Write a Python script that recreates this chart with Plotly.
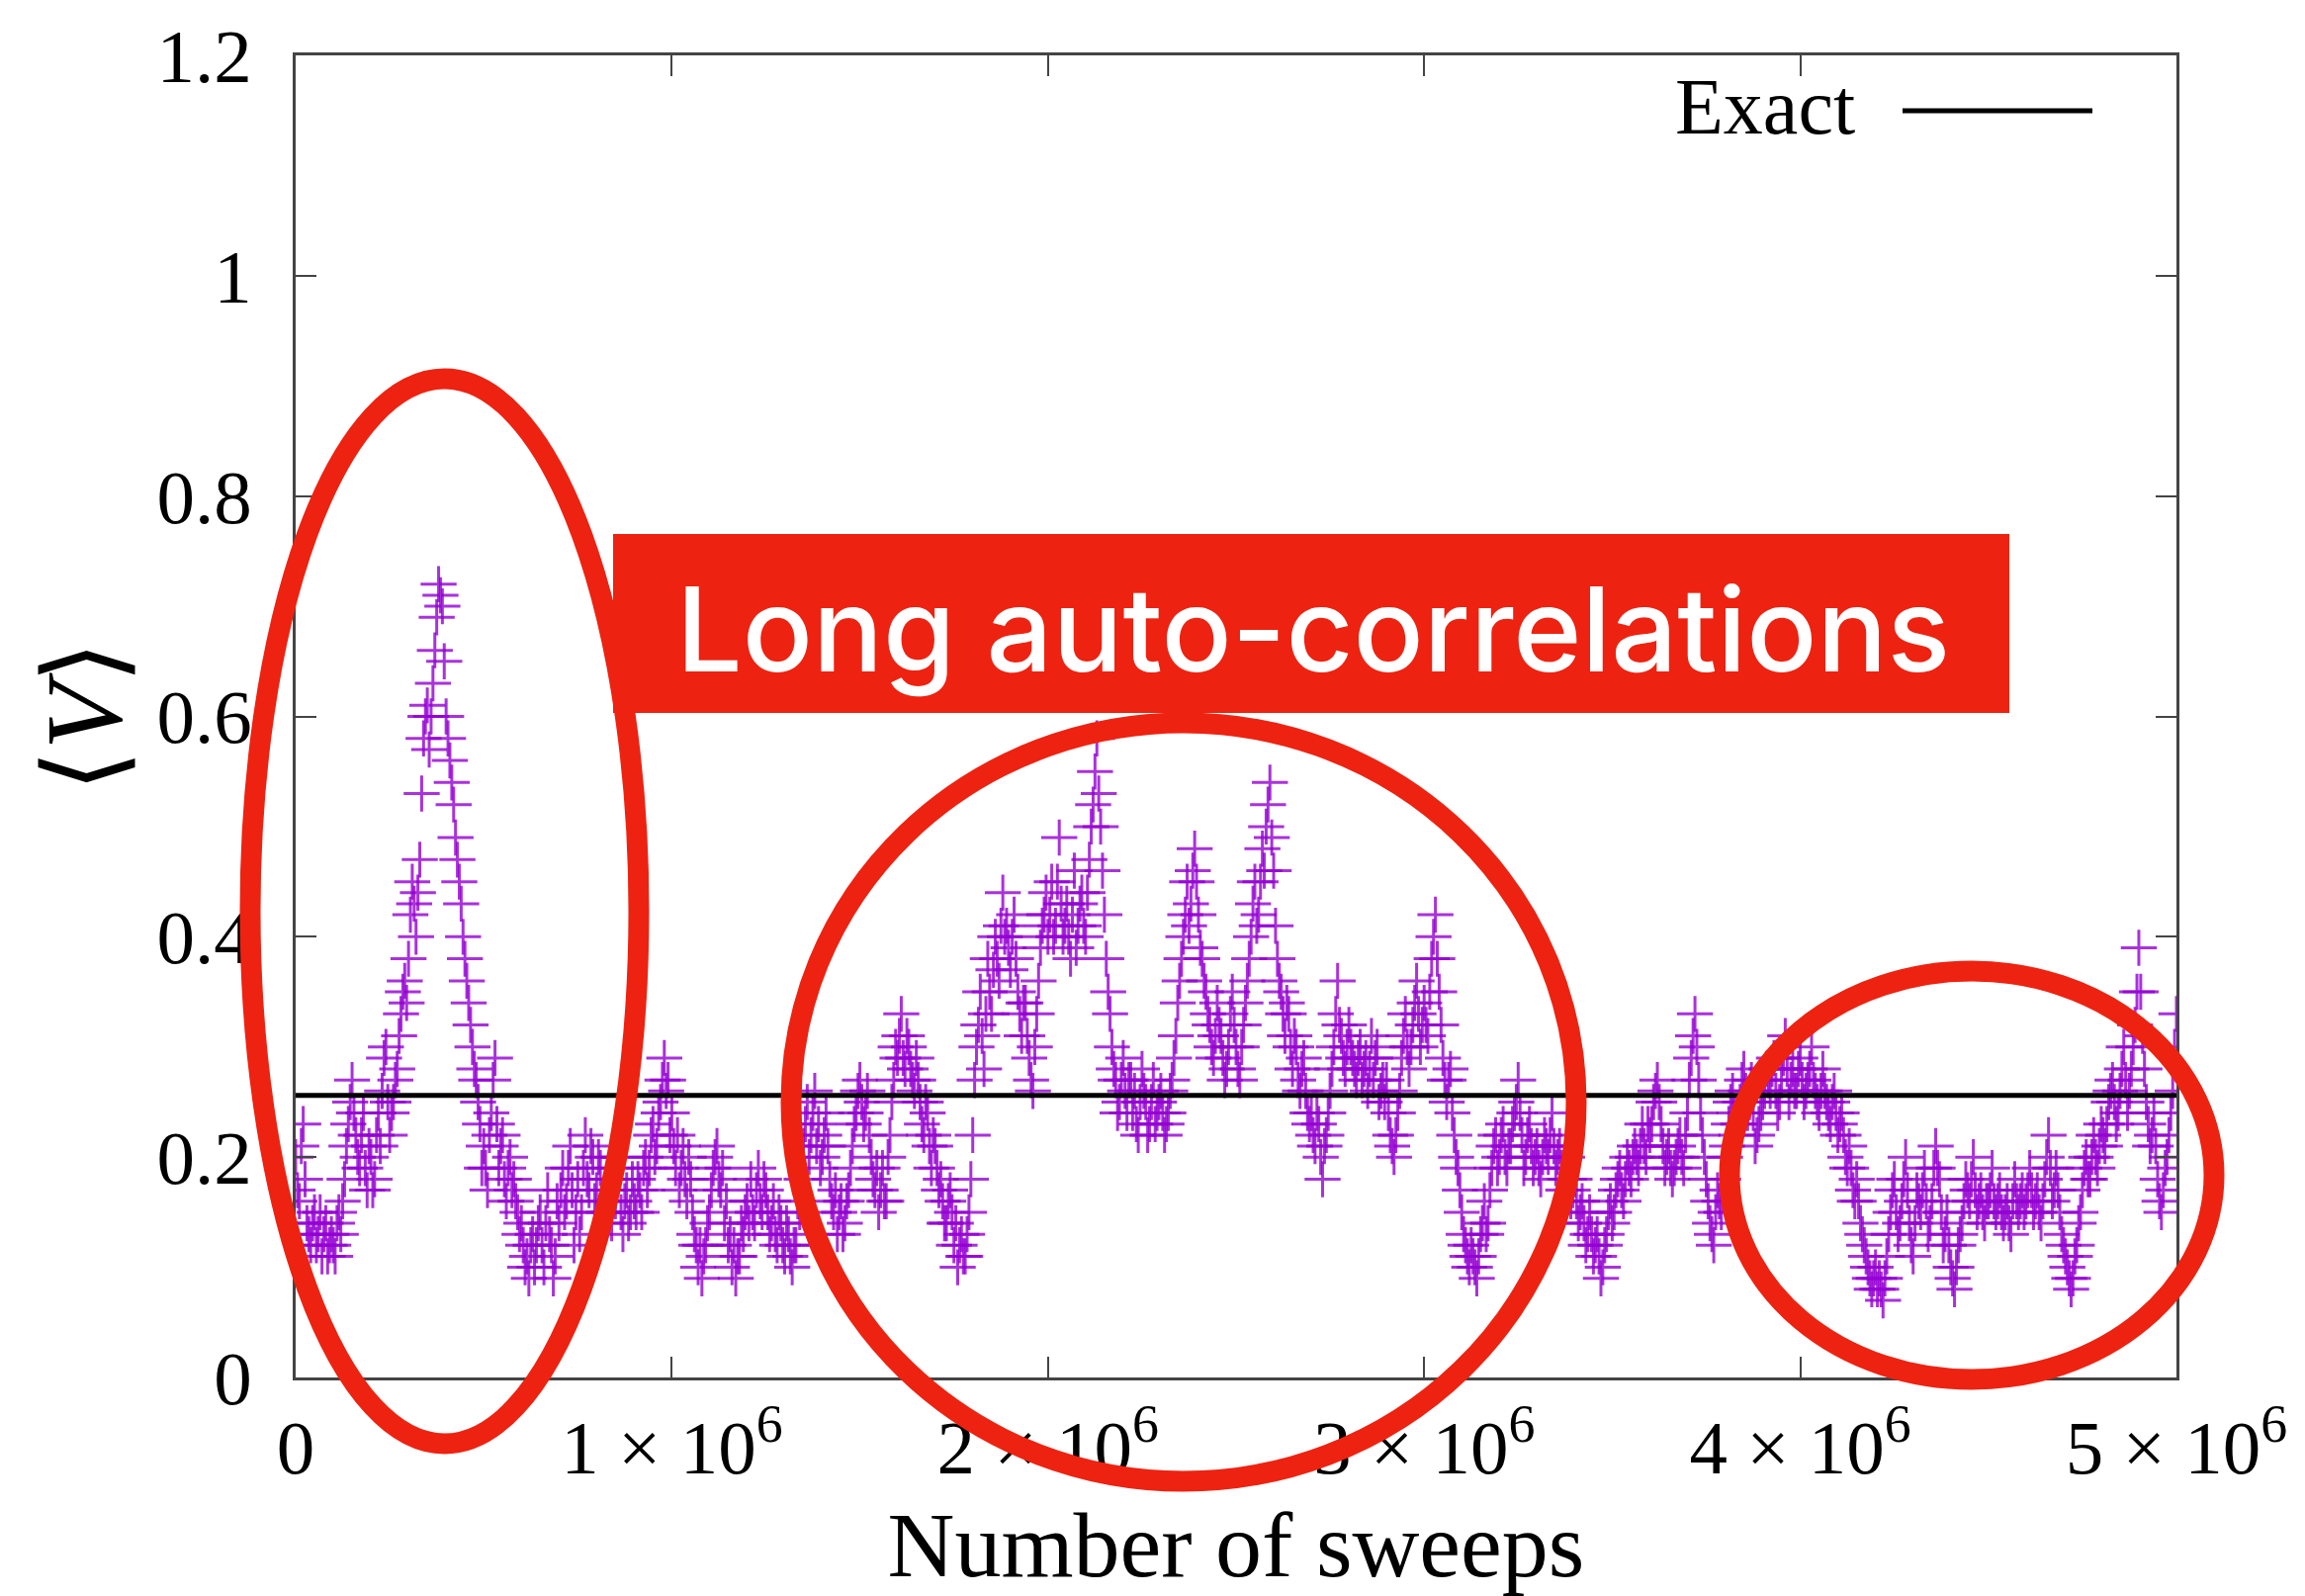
import plotly.graph_objects as go

# ---------------- data ----------------
sweep_step = 10000          # sweeps between successive measurements
mean_V = [
    # 0.0M
    0.20, 0.16, 0.23, 0.14, 0.12, 0.15, 0.13, 0.11, 0.14, 0.12,
    0.12, 0.14, 0.13, 0.18, 0.23, 0.27, 0.22, 0.19, 0.24, 0.17,
    0.20, 0.18, 0.24, 0.26, 0.30, 0.22, 0.25, 0.28, 0.33, 0.36,
    0.38, 0.45, 0.40, 0.47, 0.58, 0.61, 0.60, 0.66, 0.72, 0.70,
    0.60, 0.56, 0.52, 0.47, 0.43, 0.38, 0.34, 0.30, 0.27, 0.23,
    0.21, 0.17, 0.24, 0.29, 0.19, 0.22, 0.16, 0.20, 0.18, 0.15,
    0.14, 0.10, 0.09, 0.13, 0.12, 0.15, 0.10, 0.17, 0.12, 0.11,
    0.14, 0.19, 0.16, 0.21, 0.12, 0.18, 0.15, 0.22, 0.17, 0.20,
    0.17, 0.19, 0.15, 0.18, 0.14, 0.16, 0.20, 0.13, 0.17, 0.15,
    0.16, 0.18, 0.15, 0.20, 0.19, 0.23, 0.21, 0.25, 0.29, 0.27,
    # 1.0M
    0.24, 0.19, 0.17, 0.21, 0.16, 0.18, 0.13, 0.10, 0.09, 0.12,
    0.15, 0.19, 0.21, 0.17, 0.14, 0.12, 0.10, 0.09, 0.11, 0.13,
    0.16, 0.18, 0.14, 0.19, 0.15, 0.17, 0.13, 0.16, 0.12, 0.14,
    0.11, 0.13, 0.10, 0.12, 0.15, 0.21, 0.25, 0.22, 0.26, 0.23,
    0.20, 0.24, 0.18, 0.15, 0.13, 0.16, 0.14, 0.17, 0.21, 0.24,
    0.27, 0.23, 0.26, 0.20, 0.17, 0.15, 0.19, 0.16, 0.22, 0.27,
    0.29, 0.33, 0.28, 0.30, 0.27, 0.29, 0.25, 0.22, 0.24, 0.19,
    0.21, 0.17, 0.16, 0.14, 0.17, 0.12, 0.10, 0.13, 0.11, 0.15,
    0.22, 0.30, 0.35, 0.28, 0.38, 0.33, 0.40, 0.36, 0.44, 0.41,
    0.37, 0.42, 0.35, 0.31, 0.34, 0.29, 0.26, 0.33, 0.39, 0.42,
    # 2.0M
    0.40, 0.45, 0.41, 0.49, 0.40, 0.43, 0.38, 0.46, 0.41, 0.44,
    0.40, 0.47, 0.52, 0.58, 0.50, 0.42, 0.35, 0.30, 0.27, 0.25,
    0.29, 0.24, 0.27, 0.26, 0.22, 0.28, 0.25, 0.23, 0.27, 0.24,
    0.26, 0.22, 0.24, 0.27, 0.31, 0.36, 0.40, 0.45, 0.43, 0.48,
    0.42, 0.38, 0.35, 0.32, 0.29, 0.34, 0.31, 0.27, 0.30, 0.35,
    0.30, 0.27, 0.32, 0.36, 0.40, 0.45, 0.42, 0.48, 0.50, 0.54,
    0.46, 0.38, 0.35, 0.31, 0.33, 0.28, 0.30, 0.26, 0.29, 0.24,
    0.24, 0.21, 0.23, 0.18, 0.22, 0.26, 0.30, 0.36, 0.31, 0.28,
    0.32, 0.29, 0.27, 0.30, 0.28, 0.26, 0.31, 0.29, 0.25, 0.27,
    0.27, 0.22, 0.20, 0.24, 0.29, 0.33, 0.28, 0.32, 0.36, 0.30,
    # 3.0M
    0.34, 0.31, 0.38, 0.42, 0.35, 0.29, 0.25, 0.28, 0.22, 0.19,
    0.15, 0.12, 0.10, 0.11, 0.09, 0.13, 0.16, 0.14, 0.19, 0.22,
    0.20, 0.23, 0.19, 0.21, 0.24, 0.27, 0.22, 0.20, 0.23, 0.19,
    0.21, 0.18, 0.22, 0.20, 0.24, 0.19, 0.21, 0.17, 0.20, 0.16,
    0.18, 0.14, 0.16, 0.12, 0.15, 0.11, 0.13, 0.09, 0.12, 0.15,
    0.14, 0.17, 0.19, 0.16, 0.20, 0.18, 0.21, 0.19, 0.23, 0.20,
    0.22, 0.25, 0.27, 0.23, 0.19, 0.21, 0.18, 0.20, 0.22, 0.19,
    0.24, 0.29, 0.33, 0.27, 0.22, 0.18, 0.14, 0.12, 0.17, 0.15,
    0.20, 0.23, 0.26, 0.22, 0.25, 0.28, 0.24, 0.27, 0.21, 0.23,
    0.25, 0.28, 0.26, 0.29, 0.24, 0.27, 0.31, 0.25, 0.28, 0.26,
    # 4.0M
    0.29, 0.25, 0.27, 0.30, 0.26, 0.24, 0.28, 0.25, 0.23, 0.26,
    0.22, 0.24, 0.20, 0.21, 0.17, 0.18, 0.14, 0.12, 0.10, 0.08,
    0.10, 0.09, 0.07, 0.11, 0.15, 0.18, 0.13, 0.16, 0.20, 0.14,
    0.11, 0.17, 0.15, 0.19, 0.13, 0.16, 0.21, 0.18, 0.12, 0.15,
    0.10, 0.08, 0.12, 0.14, 0.18, 0.16, 0.20, 0.15, 0.17, 0.14,
    0.16, 0.19, 0.15, 0.17, 0.14, 0.16, 0.13, 0.18, 0.15, 0.17,
    0.16, 0.19, 0.15, 0.17, 0.14, 0.18, 0.22, 0.16, 0.19, 0.15,
    0.12, 0.10, 0.08, 0.11, 0.14, 0.17, 0.20, 0.18, 0.22, 0.19,
    0.23, 0.21, 0.25, 0.27, 0.23, 0.26, 0.30, 0.24, 0.28, 0.32,
    0.39, 0.31, 0.25, 0.21, 0.24, 0.18, 0.15, 0.19, 0.22, 0.26,
    # 5.0M
    0.33,
]
# measurements taken half-way between the ones above
mean_V_mid = [
    # 0.0M
    0.17, 0.21, 0.18, 0.13, 0.14, 0.12, 0.15, 0.13, 0.11, 0.13,
    0.11, 0.15, 0.16, 0.21, 0.25, 0.24, 0.20, 0.22, 0.19, 0.21,
    0.17, 0.22, 0.21, 0.29, 0.25, 0.24, 0.27, 0.31, 0.35, 0.34,
    0.42, 0.43, 0.44, 0.53, 0.60, 0.57, 0.63, 0.69, 0.71, 0.65,
    0.58, 0.54, 0.49, 0.45, 0.40, 0.36, 0.32, 0.28, 0.25, 0.19,
    0.19, 0.22, 0.27, 0.23, 0.21, 0.18, 0.19, 0.17, 0.16, 0.13,
    0.12, 0.11, 0.12, 0.10, 0.14, 0.12, 0.14, 0.13, 0.09, 0.16,
    0.17, 0.15, 0.19, 0.17, 0.15, 0.13, 0.19, 0.18, 0.21, 0.16,
    0.20, 0.16, 0.17, 0.15, 0.18, 0.19, 0.15, 0.16, 0.14, 0.18,
    0.15, 0.17, 0.19, 0.17, 0.22, 0.20, 0.24, 0.27, 0.26, 0.22,
    # 1.0M
    0.21, 0.22, 0.19, 0.18, 0.20, 0.15, 0.12, 0.12, 0.11, 0.14,
    0.17, 0.20, 0.18, 0.19, 0.16, 0.13, 0.12, 0.11, 0.14, 0.15,
    0.14, 0.15, 0.17, 0.16, 0.18, 0.15, 0.14, 0.13, 0.15, 0.12,
    0.14, 0.11, 0.12, 0.16, 0.18, 0.23, 0.20, 0.24, 0.21, 0.19,
    0.22, 0.21, 0.16, 0.17, 0.15, 0.13, 0.16, 0.19, 0.23, 0.26,
    0.25, 0.24, 0.22, 0.18, 0.19, 0.17, 0.16, 0.20, 0.25, 0.30,
    0.31, 0.29, 0.31, 0.28, 0.26, 0.27, 0.23, 0.25, 0.21, 0.22,
    0.19, 0.18, 0.14, 0.16, 0.15, 0.14, 0.12, 0.11, 0.13, 0.18,
    0.27, 0.32, 0.31, 0.33, 0.35, 0.37, 0.38, 0.41, 0.40, 0.39,
    0.40, 0.38, 0.33, 0.34, 0.31, 0.27, 0.30, 0.36, 0.41, 0.44,
    # 2.0M
    0.42, 0.40, 0.45, 0.43, 0.41, 0.40, 0.42, 0.39, 0.43, 0.41,
    0.44, 0.50, 0.55, 0.53, 0.46, 0.38, 0.33, 0.28, 0.24, 0.27,
    0.26, 0.27, 0.24, 0.23, 0.25, 0.26, 0.22, 0.25, 0.23, 0.25,
    0.24, 0.23, 0.26, 0.29, 0.34, 0.38, 0.42, 0.41, 0.46, 0.45,
    0.39, 0.36, 0.33, 0.30, 0.31, 0.32, 0.29, 0.28, 0.33, 0.32,
    0.28, 0.30, 0.34, 0.38, 0.43, 0.41, 0.45, 0.46, 0.52, 0.49,
    0.41, 0.36, 0.33, 0.34, 0.30, 0.31, 0.27, 0.28, 0.26, 0.23,
    0.22, 0.24, 0.20, 0.21, 0.24, 0.28, 0.33, 0.32, 0.29, 0.30,
    0.30, 0.28, 0.29, 0.27, 0.29, 0.28, 0.27, 0.30, 0.26, 0.25,
    0.24, 0.21, 0.22, 0.26, 0.31, 0.30, 0.30, 0.34, 0.33, 0.32,
    # 3.0M
    0.32, 0.35, 0.40, 0.38, 0.32, 0.27, 0.27, 0.24, 0.20, 0.17,
    0.13, 0.11, 0.12, 0.10, 0.11, 0.14, 0.13, 0.17, 0.21, 0.19,
    0.22, 0.20, 0.21, 0.23, 0.25, 0.24, 0.19, 0.22, 0.21, 0.20,
    0.19, 0.20, 0.21, 0.22, 0.21, 0.20, 0.19, 0.18, 0.18, 0.17,
    0.16, 0.15, 0.14, 0.13, 0.13, 0.12, 0.11, 0.10, 0.13, 0.16,
    0.15, 0.18, 0.17, 0.18, 0.19, 0.20, 0.20, 0.21, 0.21, 0.23,
    0.23, 0.26, 0.25, 0.21, 0.20, 0.19, 0.19, 0.21, 0.20, 0.22,
    0.27, 0.31, 0.30, 0.24, 0.20, 0.16, 0.13, 0.15, 0.16, 0.18,
    0.21, 0.25, 0.24, 0.23, 0.27, 0.26, 0.25, 0.24, 0.22, 0.24,
    0.26, 0.27, 0.28, 0.26, 0.25, 0.29, 0.28, 0.27, 0.26, 0.28,
    # 4.0M
    0.27, 0.26, 0.28, 0.27, 0.25, 0.26, 0.26, 0.24, 0.25, 0.24,
    0.23, 0.22, 0.19, 0.19, 0.16, 0.16, 0.13, 0.11, 0.09, 0.09,
    0.08, 0.08, 0.09, 0.13, 0.17, 0.15, 0.14, 0.18, 0.17, 0.12,
    0.14, 0.16, 0.17, 0.16, 0.14, 0.19, 0.19, 0.15, 0.13, 0.12,
    0.09, 0.10, 0.13, 0.16, 0.17, 0.18, 0.17, 0.16, 0.15, 0.16,
    0.17, 0.16, 0.16, 0.15, 0.15, 0.14, 0.16, 0.16, 0.16, 0.15,
    0.17, 0.17, 0.16, 0.15, 0.16, 0.20, 0.19, 0.17, 0.17, 0.13,
    0.11, 0.09, 0.09, 0.12, 0.15, 0.19, 0.18, 0.20, 0.20, 0.21,
    0.22, 0.23, 0.26, 0.25, 0.24, 0.28, 0.27, 0.26, 0.30, 0.35,
    0.35, 0.28, 0.23, 0.22, 0.21, 0.16, 0.17, 0.20, 0.24, 0.30,
]
sweeps = [i * sweep_step for i in range(len(mean_V))]
sweeps_mid = [i * sweep_step + sweep_step // 2 for i in range(len(mean_V_mid))]

exact_value = 0.256
exact_x = [0, 5e6]

x_ticks = [0, 1e6, 2e6, 3e6, 4e6, 5e6]
x_labels = ["0", "1 × 10<sup>6</sup>", "2 × 10<sup>6</sup>", "3 × 10<sup>6</sup>",
            "4 × 10<sup>6</sup>", "5 × 10<sup>6</sup>"]
y_ticks = [0, 0.2, 0.4, 0.6, 0.8, 1.0, 1.2]
y_labels = ["0", "0.2", "0.4", "0.6", "0.8", "1", "1.2"]

annotation_text = "Long auto-correlations"
legend_text = "Exact"

# ---------------- layout geometry ----------------
W, H = 2331, 1614
L, R, T, B = 299, 130, 56, 221
PW, PH = W - L - R, H - T - B


def fx(p):
    return (p - L) / PW


def fy(p):
    return (H - B - p) / PH


SERIF = "Liberation Serif, Times New Roman, serif"
RED = "#EE2211"
AXC = "#444444"
PURPLE = "#9400D3"

fig = go.Figure()
marker_style = dict(symbol="cross-thin", size=26, color=PURPLE, opacity=0.8,
                    line=dict(width=3, color=PURPLE))
fig.add_trace(go.Scatter(x=sweeps, y=mean_V, mode="markers", showlegend=False,
                         marker=marker_style))
fig.add_trace(go.Scatter(x=sweeps_mid, y=mean_V_mid, mode="markers", showlegend=False,
                         marker=marker_style))
fig.add_trace(go.Scatter(
    x=exact_x, y=[exact_value, exact_value], mode="lines", showlegend=False,
    line=dict(color="black", width=5),
))

shapes = []
for (x0, y0, x1, y1) in [(253, 383, 646, 1460), (800, 731, 1594, 1498),
                         (1749, 982, 2239, 1395)]:
    shapes.append(dict(type="circle", xref="paper", yref="paper",
                       x0=fx(x0), x1=fx(x1), y0=fy(y1), y1=fy(y0),
                       line=dict(color=RED, width=21), layer="above"))
shapes.append(dict(type="rect", xref="paper", yref="paper",
                   x0=fx(620), x1=fx(2032), y0=fy(721), y1=fy(540),
                   fillcolor=RED, line=dict(width=0), layer="above"))
shapes.append(dict(type="line", xref="paper", yref="paper",
                   x0=fx(1924), x1=fx(2116), y0=fy(112), y1=fy(112),
                   line=dict(color="black", width=5), layer="above"))

annotations = [
    dict(text=annotation_text, xref="paper", yref="paper", x=fx(1328), y=fy(636),
         xanchor="center", yanchor="middle", showarrow=False,
         font=dict(family="Inter, Open Sans, sans-serif", size=118, color="white", weight=500)),
    dict(text=legend_text, xref="paper", yref="paper", x=fx(1878), y=fy(108),
         xanchor="right", yanchor="middle", showarrow=False,
         font=dict(family=SERIF, size=80, color="black")),
]

axis_common = dict(
    showline=True, linecolor=AXC, linewidth=2.5, mirror="ticks",
    ticks="inside", ticklen=21, tickwidth=2, tickcolor=AXC,
    showgrid=False, zeroline=False,
    tickfont=dict(family=SERIF, size=77, color="black"),
)

fig.update_layout(
    width=W, height=H,
    margin=dict(l=L, r=R, t=T, b=B, autoexpand=False),
    paper_bgcolor="white", plot_bgcolor="white",
    showlegend=False,
    shapes=shapes, annotations=annotations,
    xaxis=dict(range=[0, 5e6], tickvals=x_ticks, ticktext=x_labels,
               ticklabelstandoff=2,
               title=dict(text="Number of sweeps", standoff=50,
                          font=dict(family=SERIF, size=94, color="black")),
               **axis_common),
    yaxis=dict(range=[0, 1.2], tickvals=y_ticks, ticktext=y_labels,
               ticklabelstandoff=26,
               title=dict(text="⟨<i>V</i>⟩", standoff=0,
                          font=dict(family=SERIF, size=110, color="black")),
               **axis_common),
)

fig.write_html("out.html")
